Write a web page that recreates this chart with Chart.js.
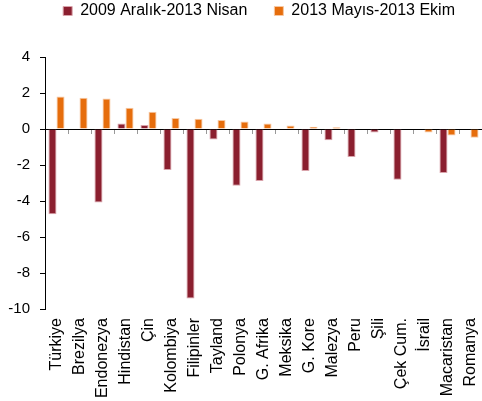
<!DOCTYPE html>
<html>
<head>
<meta charset="utf-8">
<script src="https://cdn.jsdelivr.net/npm/chart.js@4"></script>
<style>
  html, body { margin: 0; padding: 0; background: #fff; }
  #wrap { width: 482px; height: 401px; }
</style>
</head>
<body>
<div id="wrap"><canvas id="chart"></canvas></div>
<script>
const countries = ['Türkiye', 'Brezilya', 'Endonezya', 'Hindistan', 'Çin', 'Kolombiya', 'Filipinler',
  'Tayland', 'Polonya', 'G. Afrika', 'Meksika', 'G. Kore', 'Malezya', 'Peru', 'Şili', 'Çek Cum.',
  'İsrail', 'Macaristan', 'Romanya'];
const seriesNames = ['2009 Aralık-2013 Nisan', '2013 Mayıs-2013 Ekim'];
const period1 = [-4.74, 0, -4.09, 0.31, 0.22, -2.28, -9.41, -0.59, -3.15, -2.89, 0, -2.33, -0.63,
  -1.56, -0.19, -2.82, 0, -2.44, 0];
const period2 = [1.81, 1.74, 1.70, 1.18, 0.96, 0.61, 0.57, 0.50, 0.42, 0.31, 0.20, 0.13, 0.10,
  0, -0.03, -0.03, -0.19, -0.36, -0.48];

Chart.defaults.font.family = "'Liberation Sans', Arial, sans-serif";
Chart.defaults.font.size = 15;
Chart.defaults.color = '#000';

new Chart(document.getElementById('chart'), {
  type: 'bar',
  data: {
    labels: countries,
    datasets: [{
      label: seriesNames[0],
      data: period1,
      backgroundColor: '#8B1F2F',
      borderColor: '#d9a3ab',
      borderWidth: 1,
      categoryPercentage: 0.7,
      barPercentage: 1.0
    }, {
      label: seriesNames[1],
      data: period2,
      backgroundColor: '#E66D0C',
      borderColor: '#f7c8a2',
      borderWidth: 1,
      categoryPercentage: 0.7,
      barPercentage: 1.0
    }]
  },
  options: {
    responsive: true,
    maintainAspectRatio: false,
    animation: false,
    layout: { padding: { top: -24, left: 0, right: 0, bottom: 0 } },
    plugins: {
      legend: {
        align: 'end',
        labels: {
          boxWidth: 9,
          boxHeight: 9,
          padding: 27,
          font: { size: 16 }
        }
      },
      // empty spacer between legend and plot
      subtitle: {
        display: true,
        text: '',
        weight: 500,
        font: { size: 10 },
        padding: { top: 0, bottom: 16 }
      },
      tooltip: { enabled: false }
    },
    scales: {
      x: {
        grid: { display: false, drawTicks: false },
        border: { display: false },
        ticks: { minRotation: 90, maxRotation: 90, padding: 9, autoSkip: false, font: { size: 16 } },
        afterFit: (scale) => {
          scale.height = 92;
          scale.paddingLeft = 0;
          scale.paddingRight = 0;
        }
      },
      // zero line with the small category ticks under it
      x2: {
        type: 'category',
        labels: countries,
        position: { y: 0 },
        offset: true,
        grid: { offset: true, drawOnChartArea: false, tickLength: 4, color: '#999' },
        border: { color: '#000', width: 1 },
        ticks: { display: false }
      },
      y: {
        min: -10,
        max: 4,
        ticks: { stepSize: 2, padding: 10, font: { size: 15 } },
        grid: { drawOnChartArea: false, tickLength: 5, color: '#000' },
        border: { color: '#000', width: 1 },
        afterFit: (scale) => { scale.width = 45; }
      }
    }
  }
});
</script>
</body>
</html>
